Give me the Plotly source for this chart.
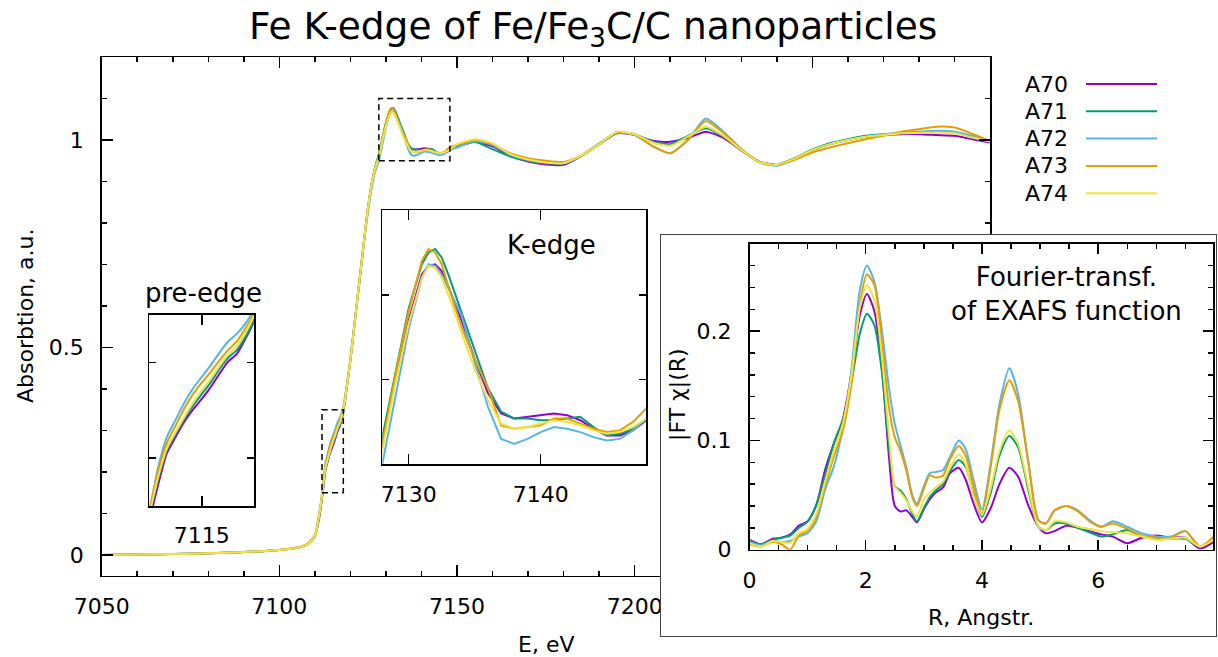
import plotly.graph_objects as go

# ---------------- data ----------------
TITLE = "Fe K-edge of Fe/Fe<sub>3</sub>C/C nanoparticles"
SERIES = ["A70", "A71", "A72", "A73", "A74"]
COLORS = ["#9400d3", "#009e73", "#56b4e9", "#e69f00", "#f0e442"]

# main E axis ticks (the last two labels sit under the FT inset in the original)
MAIN_XTICKS = [7050, 7100, 7150, 7200, 7250, 7300]
MAIN_XTICKTEXT = ["7050", "7100", "7150", "7200", "", ""]

energy_eV = [7050, 7060, 7070, 7080, 7090, 7100, 7105, 7108, 7110, 7111,
             7112, 7112.5, 7113, 7113.5, 7114, 7114.5, 7115, 7115.5, 7116, 7116.5, 7117, 7117.5, 7118,
             7119, 7120, 7121, 7122, 7123, 7124, 7125, 7126, 7127,
             7128, 7129, 7130, 7131, 7131.5, 7132, 7132.5, 7133, 7134, 7135, 7136, 7137, 7138, 7139,
             7140, 7141, 7142, 7143, 7144, 7145, 7146, 7147, 7148,
             7150, 7155, 7160, 7165, 7170, 7175, 7180, 7185, 7190, 7195, 7200, 7205, 7210, 7215,
             7220, 7225, 7230, 7235, 7240, 7245, 7250, 7255, 7260, 7265, 7270, 7275, 7280, 7285,
             7290, 7295, 7300]

mu_A70 = [0.0, 0.001, 0.002, 0.004, 0.007, 0.012, 0.017, 0.026, 0.045, 0.08,
          0.135, 0.172, 0.205, 0.222, 0.238, 0.251, 0.262, 0.274, 0.288, 0.301, 0.309, 0.325, 0.344,
          0.405, 0.47, 0.545, 0.62, 0.695, 0.77, 0.84, 0.895, 0.935,
          0.962, 1.0, 1.035, 1.062, 1.067, 1.068, 1.064, 1.055, 1.035, 1.012, 0.992, 0.980, 0.977, 0.978,
          0.979, 0.980, 0.979, 0.976, 0.971, 0.967, 0.967, 0.970, 0.976,
          0.985, 0.996, 0.985, 0.962, 0.948, 0.941, 0.940, 0.962, 0.99, 1.016, 1.012, 0.998, 0.996, 1.005,
          1.020, 1.005, 0.975, 0.948, 0.940, 0.955, 0.975, 0.990, 1.000, 1.008, 1.012, 1.014, 1.014, 1.012,
          1.010, 1.002, 0.994]
mu_A71 = [0.0, 0.001, 0.002, 0.004, 0.007, 0.012, 0.017, 0.026, 0.046, 0.083,
          0.140, 0.178, 0.208, 0.225, 0.241, 0.255, 0.267, 0.279, 0.293, 0.305, 0.313, 0.327, 0.345,
          0.405, 0.47, 0.545, 0.62, 0.695, 0.77, 0.84, 0.895, 0.935,
          0.966, 1.005, 1.042, 1.068, 1.075, 1.077, 1.072, 1.062, 1.040, 1.018, 0.995, 0.981, 0.977, 0.977,
          0.976, 0.976, 0.977, 0.978, 0.972, 0.967, 0.968, 0.971, 0.976,
          0.983, 0.995, 0.978, 0.96, 0.95, 0.944, 0.944, 0.962, 0.99, 1.017, 1.014, 0.996, 0.990, 1.01,
          1.028, 1.008, 0.976, 0.948, 0.94, 0.956, 0.977, 0.992, 1.002, 1.01, 1.014, 1.016, 1.018, 1.02,
          1.018, 1.008, 0.996]
mu_A72 = [0.0, 0.001, 0.002, 0.004, 0.007, 0.012, 0.018, 0.027, 0.048, 0.09,
          0.146, 0.190, 0.222, 0.240, 0.258, 0.273, 0.285, 0.297, 0.310, 0.322, 0.330, 0.341, 0.356,
          0.41, 0.472, 0.545, 0.62, 0.69, 0.765, 0.83, 0.885, 0.925,
          0.950, 0.990, 1.030, 1.060, 1.068, 1.067, 1.062, 1.054, 1.038, 1.010, 0.984, 0.965, 0.962, 0.965,
          0.969, 0.972, 0.971, 0.969, 0.966, 0.964, 0.965, 0.970, 0.977,
          0.982, 0.997, 0.988, 0.964, 0.952, 0.946, 0.945, 0.963, 0.992, 1.018, 1.012, 0.985, 0.968, 1.0,
          1.052, 1.02, 0.978, 0.946, 0.938, 0.953, 0.975, 0.990, 1.0, 1.008, 1.014, 1.017, 1.02, 1.022,
          1.02, 1.01, 0.998]
mu_A73 = [0.0, 0.001, 0.002, 0.004, 0.007, 0.012, 0.018, 0.027, 0.047, 0.088,
          0.145, 0.186, 0.216, 0.234, 0.252, 0.267, 0.279, 0.290, 0.302, 0.313, 0.322, 0.336, 0.352,
          0.41, 0.472, 0.545, 0.62, 0.695, 0.77, 0.84, 0.895, 0.935,
          0.962, 1.003, 1.040, 1.070, 1.077, 1.075, 1.068, 1.055, 1.031, 1.012, 0.995, 0.973, 0.971, 0.972,
          0.973, 0.977, 0.977, 0.974, 0.971, 0.969, 0.970, 0.975, 0.983,
          0.988, 1.0, 0.99, 0.968, 0.956, 0.95, 0.947, 0.962, 0.99, 1.018, 1.013, 0.986, 0.968, 1.0,
          1.046, 1.017, 0.978, 0.947, 0.94, 0.952, 0.970, 0.982, 0.992, 1.002, 1.01, 1.02, 1.026, 1.032,
          1.03, 1.015, 0.997]
mu_A74 = [0.0, 0.001, 0.002, 0.004, 0.007, 0.012, 0.017, 0.026, 0.046, 0.085,
          0.142, 0.180, 0.210, 0.227, 0.243, 0.258, 0.271, 0.283, 0.296, 0.308, 0.317, 0.332, 0.350,
          0.405, 0.47, 0.545, 0.62, 0.695, 0.77, 0.84, 0.895, 0.932,
          0.958, 0.998, 1.033, 1.060, 1.067, 1.066, 1.060, 1.050, 1.028, 1.006, 0.988, 0.974, 0.971, 0.972,
          0.974, 0.976, 0.975, 0.973, 0.970, 0.968, 0.969, 0.972, 0.977,
          0.99, 1.002, 0.992, 0.966, 0.953, 0.946, 0.944, 0.963, 0.99, 1.02, 1.014, 0.994, 0.986, 1.008,
          1.032, 1.01, 0.976, 0.947, 0.94, 0.955, 0.976, 0.99, 1.0, 1.008, 1.012, 1.016, 1.017, 1.018,
          1.016, 1.006, 0.996]

R_angstrom = [0.0, 0.2, 0.4, 0.55, 0.7, 0.85, 1.0, 1.15, 1.3, 1.45,
              1.6, 1.75, 1.9, 2.02, 2.15, 2.28, 2.4, 2.5, 2.6, 2.7,
              2.8, 2.88, 3.0, 3.1, 3.2, 3.33, 3.45, 3.6, 3.72, 3.85,
              4.0, 4.15, 4.3, 4.47, 4.62, 4.8, 4.97, 5.1, 5.25, 5.45,
              5.65, 5.85, 6.05, 6.25, 6.5, 6.75, 7.0, 7.25, 7.5, 7.75, 7.98]

ft_A70 = [0.009, 0.005, 0.010, 0.011, 0.014, 0.022, 0.026, 0.041, 0.073, 0.097,
          0.118, 0.160, 0.215, 0.234, 0.218, 0.165, 0.085, 0.040, 0.035, 0.036,
          0.030, 0.025, 0.037, 0.046, 0.052, 0.057, 0.070, 0.075, 0.064, 0.043,
          0.025, 0.038, 0.060, 0.075, 0.067, 0.040, 0.021, 0.015, 0.017, 0.022,
          0.020, 0.017, 0.014, 0.012, 0.006, 0.011, 0.013, 0.011, 0.011, 0.001, 0.007]
ft_A71 = [0.008, 0.005, 0.009, 0.011, 0.013, 0.020, 0.026, 0.041, 0.068, 0.097,
          0.118, 0.152, 0.198, 0.216, 0.205, 0.162, 0.095, 0.058, 0.054, 0.046,
          0.033, 0.026, 0.038, 0.048, 0.054, 0.060, 0.072, 0.082, 0.076, 0.052,
          0.030, 0.052, 0.086, 0.104, 0.094, 0.054, 0.021, 0.018, 0.024, 0.024,
          0.020, 0.016, 0.012, 0.014, 0.018, 0.012, 0.010, 0.010, 0.010, 0.003, 0.009]
ft_A72 = [0.007, 0.004, 0.008, 0.007, 0.008, 0.012, 0.015, 0.026, 0.055, 0.076,
          0.110, 0.163, 0.238, 0.260, 0.245, 0.200, 0.148, 0.115, 0.095, 0.075,
          0.050, 0.042, 0.058, 0.070, 0.071, 0.073, 0.085, 0.100, 0.092, 0.065,
          0.037, 0.079, 0.133, 0.166, 0.143, 0.079, 0.027, 0.024, 0.036, 0.040,
          0.036, 0.027, 0.021, 0.026, 0.021, 0.015, 0.012, 0.012, 0.017, 0.003, 0.011]
ft_A73 = [0.005, 0.003, 0.007, 0.005, 0.000, 0.013, 0.017, 0.030, 0.058, 0.085,
          0.108, 0.150, 0.225, 0.252, 0.242, 0.190, 0.130, 0.103, 0.090, 0.072,
          0.048, 0.040, 0.056, 0.068, 0.066, 0.068, 0.083, 0.095, 0.086, 0.060,
          0.033, 0.076, 0.128, 0.155, 0.136, 0.079, 0.027, 0.024, 0.036, 0.040,
          0.035, 0.026, 0.021, 0.024, 0.019, 0.013, 0.011, 0.011, 0.017, 0.003, 0.012]
ft_A74 = [0.006, 0.003, 0.008, 0.007, 0.006, 0.015, 0.019, 0.033, 0.062, 0.090,
          0.114, 0.158, 0.222, 0.242, 0.228, 0.175, 0.105, 0.058, 0.052, 0.045,
          0.035, 0.030, 0.046, 0.052, 0.057, 0.062, 0.075, 0.087, 0.078, 0.050,
          0.032, 0.056, 0.090, 0.109, 0.097, 0.057, 0.021, 0.018, 0.026, 0.025,
          0.021, 0.019, 0.017, 0.016, 0.015, 0.012, 0.009, 0.010, 0.011, 0.003, 0.009]

MU = [mu_A70, mu_A71, mu_A72, mu_A73, mu_A74]
FT = [ft_A70, ft_A71, ft_A72, ft_A73, ft_A74]

MAIN_X = [7050, 7300]
MAIN_Y = [-0.05, 1.2]
PRE_X = [7112, 7118]
PRE_Y = [0.15, 0.35]
KEDGE_X = [7128, 7148]
KEDGE_Y = [0.95, 1.1]
FT_X = [0, 7.98]
FT_Y = [0, 0.28]

# ---------------- layout helpers ----------------
W, H = 1218, 657
FONT = "DejaVu Sans"


def px(x):
    return x / W


def py(y):
    return 1 - y / H


def dom_x(a, b):
    return [px(a), px(b)]


def dom_y(top, bottom):
    return [py(bottom), py(top)]


fig = go.Figure()

for name, col, mu in zip(SERIES, COLORS, MU):
    fig.add_trace(go.Scatter(x=energy_eV, y=mu, mode="lines", name=name,
                             line=dict(color=col, width=2, shape="spline", smoothing=0.6),
                             xaxis="x", yaxis="y", showlegend=False))
for name, col, mu in zip(SERIES, COLORS, MU):
    fig.add_trace(go.Scatter(x=energy_eV, y=mu, mode="lines", name=name,
                             line=dict(color=col, width=2, shape="spline", smoothing=0.6),
                             xaxis="x2", yaxis="y2", showlegend=False))
for name, col, mu in zip(SERIES, COLORS, MU):
    fig.add_trace(go.Scatter(x=energy_eV, y=mu, mode="lines", name=name,
                             line=dict(color=col, width=2),
                             xaxis="x3", yaxis="y3", showlegend=False))

# empty trace that creates the white framed panel behind the FT inset
fig.add_trace(go.Scatter(x=[], y=[], xaxis="x4", yaxis="y4", showlegend=False, hoverinfo="skip"))

for name, col, ft in zip(SERIES, COLORS, FT):
    fig.add_trace(go.Scatter(x=R_angstrom, y=ft, mode="lines", name=name,
                             line=dict(color=col, width=2, shape="spline", smoothing=0.7),
                             xaxis="x5", yaxis="y5", showlegend=False))

tickfont = dict(family=FONT, size=22, color="black")
axis_common = dict(showline=True, linecolor="black", linewidth=1.5, mirror="allticks",
                   ticks="inside", tickcolor="black", tickwidth=1.5, showgrid=False,
                   zeroline=False, tickfont=tickfont, fixedrange=True, tickmode="linear",
                   automargin=False)
minor_common = dict(ticks="inside", tickcolor="black", tickwidth=1.5, showgrid=False,
                    tickmode="linear")
cover_axis = dict(range=[0, 1], showline=True, mirror=True, linecolor="#444444", linewidth=1,
                  ticks="", showticklabels=False, showgrid=False, zeroline=False,
                  fixedrange=True, automargin=False)

fig.update_layout(
    template="none",
    width=W, height=H, margin=dict(l=0, r=0, t=0, b=0, pad=0, autoexpand=False), autosize=False,
    paper_bgcolor="white", plot_bgcolor="white", showlegend=False,
    font=dict(family=FONT, color="black"),
    xaxis=dict(axis_common, domain=dom_x(101.7, 990), range=MAIN_X, anchor="y",
               tickmode="array", tickvals=MAIN_XTICKS, ticktext=MAIN_XTICKTEXT,
               ticklen=11, ticklabelstandoff=10,
               minor=dict(minor_common, dtick=10, tick0=7050, ticklen=5)),
    yaxis=dict(axis_common, domain=dom_y(57, 575.7), range=MAIN_Y, anchor="x",
               tick0=0, dtick=0.5, ticklen=11, ticklabelstandoff=12,
               minor=dict(minor_common, dtick=0.1, tick0=0, ticklen=5)),
    xaxis2=dict(axis_common, domain=dom_x(149.3, 254.3), range=PRE_X, anchor="y2",
                tick0=7100, dtick=5, ticklen=10, ticklabelstandoff=9),
    yaxis2=dict(axis_common, domain=dom_y(314.7, 506), range=PRE_Y, anchor="x2",
                tick0=0, dtick=0.1, ticklen=7, showticklabels=False),
    xaxis3=dict(axis_common, domain=dom_x(382.3, 646.3), range=KEDGE_X, anchor="y3",
                tick0=7100, dtick=10, ticklen=10, ticklabelstandoff=10),
    yaxis3=dict(axis_common, domain=dom_y(210, 464.3), range=KEDGE_Y, anchor="x3",
                tick0=0, dtick=0.05, ticklen=7, showticklabels=False),
    xaxis4=dict(cover_axis, domain=dom_x(661, 1216), anchor="y4"),
    yaxis4=dict(cover_axis, domain=dom_y(234.7, 636), anchor="x4"),
    xaxis5=dict(axis_common, domain=dom_x(749.5, 1213.3), range=FT_X, anchor="y5",
                tick0=0, dtick=2, ticklen=10, ticklabelstandoff=10,
                minor=dict(minor_common, dtick=0.5, tick0=0, ticklen=5)),
    yaxis5=dict(axis_common, domain=dom_y(243.7, 549.7), range=FT_Y, anchor="x5",
                tick0=0, dtick=0.1, ticklen=10, ticklabelstandoff=12,
                minor=dict(minor_common, dtick=0.02, tick0=0, ticklen=5)),
)

ann = []


def text(x, y, t, size, angle=0, xanchor="center", align="center"):
    ann.append(dict(x=px(x), y=py(y), xref="paper", yref="paper", text=t, showarrow=False,
                    textangle=angle, xanchor=xanchor, yanchor="middle", align=align,
                    font=dict(family=FONT, size=size, color="black")))


text(592.5, 28, TITLE, 37.5)
text(25, 316, "Absorbtion, a.u.", 22, angle=-90)
text(546, 644, "E, eV", 22)
text(203, 293, "pre-edge", 26)
text(551.7, 245, "K-edge", 26)
text(1066, 294, "Fourier-transf.<br>of EXAFS function", 26)
text(678, 395, "|FT χ|(R)", 22, angle=-90)
text(981, 617, "R, Angstr.", 22)

shapes = []
# dashed boxes marking the zoomed regions
for xr, yr in [(PRE_X, PRE_Y), (KEDGE_X, KEDGE_Y)]:
    shapes.append(dict(type="rect", xref="x", yref="y", x0=xr[0], x1=xr[1], y0=yr[0], y1=yr[1],
                       line=dict(color="black", width=1.5, dash="6px,4px"), layer="above"))

# key (label left, line sample right)
for i, (name, col) in enumerate(zip(SERIES, COLORS)):
    yk = 84 + i * 27.3
    text(1070, yk, name, 22, xanchor="right")
    shapes.append(dict(type="line", xref="paper", yref="paper", x0=px(1086), x1=px(1157),
                       y0=py(yk), y1=py(yk), line=dict(color=col, width=2)))

fig.update_layout(annotations=ann, shapes=shapes)
fig.write_html("out.html", config={"displayModeBar": False, "staticPlot": True},
               post_script="document.body.style.margin='0';document.body.style.padding='0';")
